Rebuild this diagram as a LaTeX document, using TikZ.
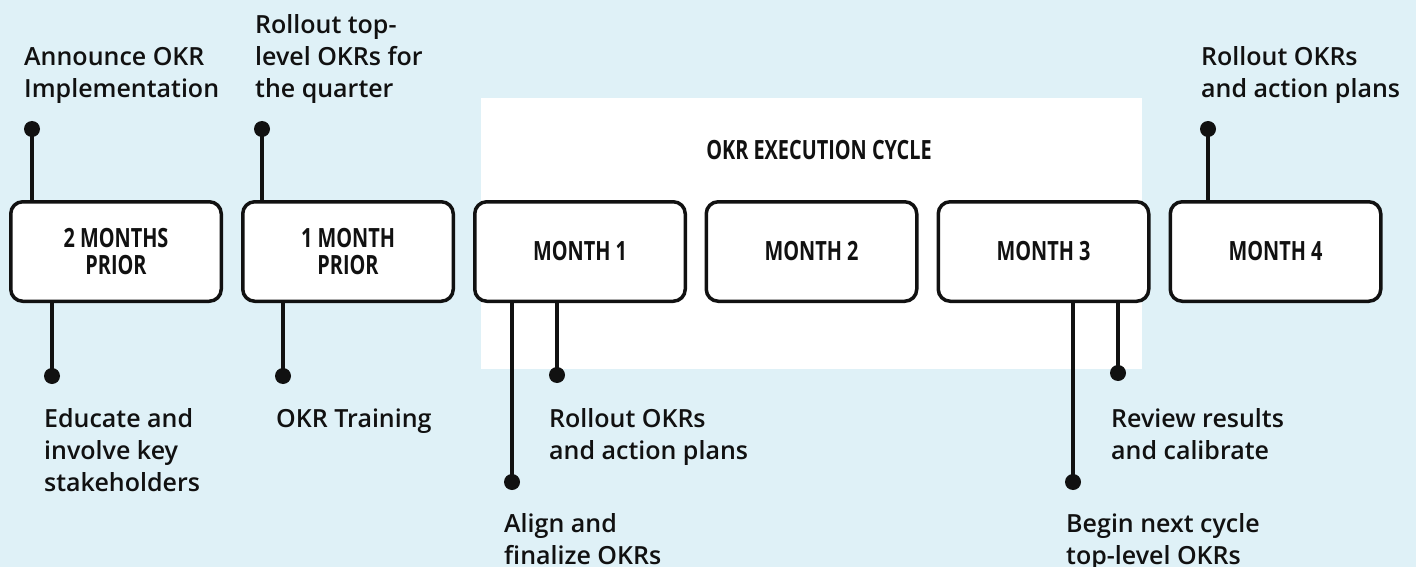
\documentclass[tikz,border=0pt]{standalone}
\usepackage{fontspec}
\setmainfont{Open Sans}
\newfontfamily\annfont{Open Sans Semibold}
\newfontfamily\condfont[FakeStretch=0.75]{Open Sans}
\definecolor{bgblue}{HTML}{DFF1F7}
\definecolor{ink}{HTML}{111111}
\newcommand\annbox[1]{\parbox[t]{300pt}{\annfont\fontsize{25}{32}\selectfont\raggedright #1}}
\begin{document}
\begin{tikzpicture}[x=1pt,y=-1pt,
  monthbox/.style={draw=ink, line width=3.5pt, rounded corners=12pt, fill=white,
    minimum width=210.5pt, minimum height=99.5pt, inner sep=0pt, align=center,
    font=\condfont\bfseries\fontsize{26.5}{27}\selectfont, text=ink},
  stem/.style={draw=ink, line width=3.5pt},
  dotmark/.style={fill=ink},
  ann/.style={anchor=base west, inner sep=0pt, text=ink},
  title/.style={anchor=base, inner sep=0pt, text=ink, font=\condfont\bfseries\fontsize{26.5}{27}\selectfont}]
\useasboundingbox (0,0) rectangle (1416,567);
\fill[bgblue] (0,0) rectangle (1416,567);
\fill[white] (481,98) rectangle (1142,369);
\node[title] (title) at (819,159) {OKR EXECUTION CYCLE};
% boxes
\node[monthbox] (b1) at (116,251.5) {2 MONTHS\\PRIOR};
\node[monthbox] (b2) at (348,251.5) {1 MONTH\\PRIOR};
\node[monthbox] (b3) at (580,251.5) {MONTH 1};
\node[monthbox] (b4) at (811.5,251.5) {MONTH 2};
\node[monthbox] (b5) at (1043.5,251.5) {MONTH 3};
\node[monthbox] (b6) at (1275.5,251.5) {MONTH 4};
% dots
\coordinate (t1) at (32,129);
\coordinate (t2) at (262,129);
\coordinate (t6) at (1208,129);
\coordinate (u1) at (52,376);
\coordinate (u2) at (283,376);
\coordinate (u3a) at (512,482);
\coordinate (u3b) at (557,375);
\coordinate (u5a) at (1073,482);
\coordinate (u5b) at (1118,373);
\draw[stem] (t1) -- (t1 |- b1.north);
\draw[stem] (t2) -- (t2 |- b2.north);
\draw[stem] (t6) -- (t6 |- b6.north);
\draw[stem] (u1) -- (u1 |- b1.south);
\draw[stem] (u2) -- (u2 |- b2.south);
\draw[stem] (u3a) -- (u3a |- b3.south);
\draw[stem] (u3b) -- (u3b |- b3.south);
\draw[stem] (u5a) -- (u5a |- b5.south);
\draw[stem] (u5b) -- (u5b |- b5.south);
\foreach \d in {t1,t2,t6,u1,u2,u3a,u3b,u5a,u5b} \fill[dotmark] (\d) circle (8pt);
% labels
\node[ann] (a1) at (24,66) {\annbox{Announce OKR\\Implementation}};
\node[ann] (a2) at (255,34) {\annbox{Rollout top-\\level OKRs for\\the quarter}};
\node[ann] (a3) at (1201,66) {\annbox{Rollout OKRs\\and action plans}};
\node[ann] (a4) at (44,427) {\annbox{Educate and\\involve key\\stakeholders}};
\node[ann] (a5) at (276,427) {\annbox{OKR Training}};
\node[ann] (a6) at (549,427) {\annbox{Rollout OKRs\\and action plans}};
\node[ann] (a7) at (504,532) {\annbox{Align and\\finalize OKRs}};
\node[ann] (a8) at (1111,427) {\annbox{Review results\\and calibrate}};
\node[ann] (a9) at (1066,532) {\annbox{Begin next cycle\\top-level OKRs}};
\end{tikzpicture}
\end{document}
